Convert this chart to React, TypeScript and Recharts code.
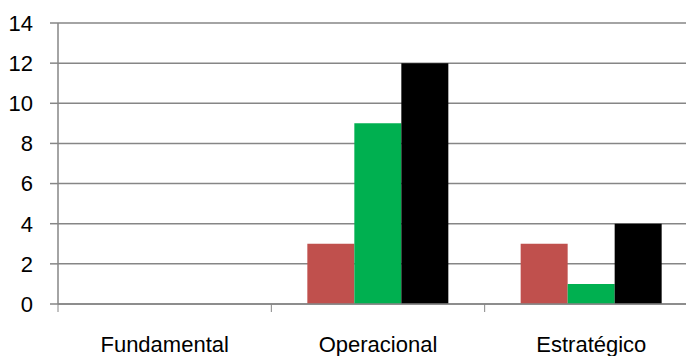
import React from 'react';
import { BarChart, Bar, XAxis, YAxis, CartesianGrid } from 'recharts';

const categories = ['Fundamental', 'Operacional', 'Estratégico'];
const serieVermelha = [0, 3, 3];
const serieVerde = [0, 9, 1];
const seriePreta = [0, 12, 4];
const yTicks = [0, 2, 4, 6, 8, 10, 12, 14];

const data = categories.map((name, i) => ({
  name,
  a: serieVermelha[i],
  b: serieVerde[i],
  c: seriePreta[i],
}));

const AXIS_GRAY = '#868686';
const FONT = '"Liberation Sans", Arial, sans-serif';

// category labels plus the tick marks on the category boundaries
const CategoryTick = ({ x, y, payload }: any) => {
  const left = x - (payload?.offset || 0);
  return (
    <g>
      <line x1={left} x2={left} y1={y - 8} y2={y} stroke={AXIS_GRAY} strokeWidth={1} />
      <text x={x} y={y + 40} textAnchor="middle" fill="#000" fontSize={22} fontFamily={FONT}>
        {payload.value}
      </text>
    </g>
  );
};

const App: React.FC = () => {
  return (
    <div style={{ position: 'absolute', left: 0, top: 0, width: 686, height: 356, overflow: 'hidden', background: '#fff' }}>
      <BarChart
        width={710}
        height={356}
        data={data}
        margin={{ top: 23, right: 12, left: 0, bottom: 0 }}
        barCategoryGap={36}
        barGap={0}
      >
        <CartesianGrid vertical={false} stroke={AXIS_GRAY} strokeWidth={1.5} />
        <XAxis
          dataKey="name"
          height={52}
          tickLine={false}
          tickSize={8}
          tickMargin={0}
          axisLine={{ stroke: AXIS_GRAY, strokeWidth: 1.5 }}
          tick={<CategoryTick />}
          interval={0}
        />
        <YAxis
          width={58}
          domain={[0, 14]}
          ticks={yTicks}
          interval={0}
          tickSize={8}
          tickMargin={17}
          tickLine={{ stroke: AXIS_GRAY, strokeWidth: 1.5 }}
          axisLine={{ stroke: AXIS_GRAY, strokeWidth: 1.5 }}
          tick={{ fill: '#000', fontSize: 22, fontFamily: FONT }}
        />
        <Bar dataKey="a" fill="#C0504D" isAnimationActive={false} />
        <Bar dataKey="b" fill="#00B050" isAnimationActive={false} />
        <Bar dataKey="c" fill="#000000" isAnimationActive={false} />
      </BarChart>
    </div>
  );
};

export default App;
